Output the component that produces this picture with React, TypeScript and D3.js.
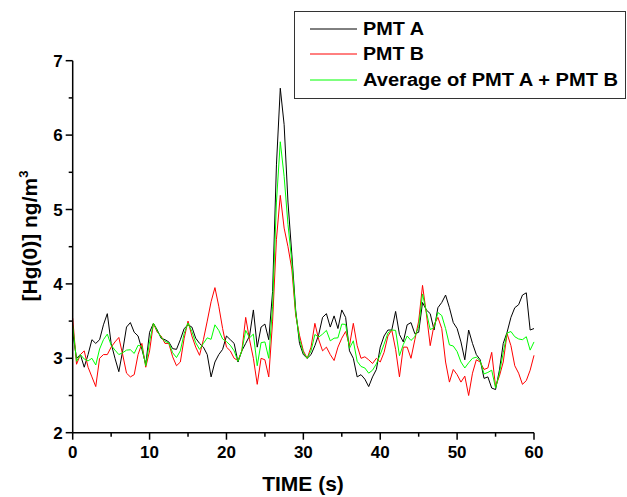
import React from "react";
import * as d3 from "d3";

const timeStep = 0.5;
const pmtA = [
  3.35, 3.0, 3.05, 2.88, 3.05, 3.25, 3.2, 3.25, 3.45, 3.6, 3.2, 3.0, 2.82, 3.1, 3.42, 3.48, 3.35, 3.3, 3.12, 2.92,
  3.35, 3.47, 3.38, 3.27, 3.25, 3.22, 3.13, 3.12, 3.25, 3.4, 3.45, 3.42, 3.27, 3.2, 3.15, 3.05, 2.75, 2.95, 3.05, 3.12,
  3.3, 3.25, 3.2, 2.95, 3.1, 3.2, 3.3, 3.65, 3.15, 3.42, 3.46, 3.25, 3.9, 5.6, 6.63, 6.14, 5.1, 4.4, 3.65, 3.2,
  3.05, 3.0, 3.05, 3.17, 3.32, 3.55, 3.6, 3.42, 3.57, 3.4, 3.65, 3.55, 3.1, 3.0, 2.75, 2.78, 2.72, 2.62, 2.75, 2.85,
  3.15, 3.3, 3.38, 3.38, 3.63, 3.32, 3.22, 3.45, 3.48, 3.33, 3.35, 3.75, 3.65, 3.6, 3.38, 3.68, 3.75, 3.85, 3.68, 3.48,
  3.4, 3.22, 2.98, 3.38, 3.2, 3.05, 2.98, 2.73, 2.75, 2.6, 2.58, 2.84, 3.2, 3.35, 3.55, 3.68, 3.72, 3.85, 3.88, 3.38,
  3.4,
];
const pmtB = [
  3.54, 2.92, 3.05, 3.1, 2.88, 2.75, 2.62, 3.0, 3.05, 3.05, 3.15, 3.22, 3.28, 3.05, 2.8, 2.75, 2.78, 3.05, 3.2, 2.88,
  3.1, 3.47, 3.35, 3.3, 3.2, 3.2, 3.02, 2.9, 2.95, 3.27, 3.5, 3.3, 3.15, 3.04, 3.25, 3.5, 3.76, 3.95, 3.7, 3.4,
  3.15, 3.1, 3.0, 2.97, 3.1, 3.55, 3.25, 3.0, 2.65, 3.0, 2.98, 2.75, 3.5, 4.6, 5.19, 4.75, 4.5, 4.2, 3.58, 3.31,
  3.1, 3.0, 3.15, 3.47, 3.25, 3.1, 3.15, 3.05, 2.97, 3.15, 3.27, 3.36, 3.17, 3.47, 3.17, 3.0, 3.02, 2.98, 2.93, 3.0,
  2.95, 3.08, 3.3, 3.38, 3.12, 2.75, 3.15, 3.15, 3.0, 3.25, 3.5, 3.98, 3.6, 3.17, 3.45, 3.55, 3.4, 2.95, 2.68, 2.85,
  2.78, 2.68, 2.76, 2.5, 2.8, 2.98, 2.95, 2.85, 2.87, 3.08, 2.62, 2.76, 2.95, 3.33, 3.17, 2.9, 2.8, 2.65, 2.7, 2.84,
  3.04,
];
const seriesNames = ["PMT A", "PMT B", "Average of PMT A + PMT B"];
const seriesColors = ["#000000", "#ff0000", "#00ff00"];
const xTicks = [0, 10, 20, 30, 40, 50, 60];
const yTicks = [2, 3, 4, 5, 6, 7];

export default function App() {
  const W = 627, H = 497;
  const x = d3.scaleLinear().domain([0, 60]).range([72.7, 534]);
  const y = d3.scaleLinear().domain([2, 7]).range([432.7, 60.7]);
  const avg = pmtA.map((a, i) => (a + pmtB[i]) / 2);
  const series = [pmtA, pmtB, avg];
  const line = d3
    .line<number>()
    .x((_, i) => x(i * timeStep))
    .y((d) => y(d));
  const xMinor = d3.range(5, 60, 10);
  const yMinor = d3.range(2.5, 7, 1);
  const font = "Arial, 'Liberation Sans', sans-serif";
  const legendWidths = [61, 61, 255];
  return (
    <svg width={W} height={H} style={{ position: "absolute", left: 0, top: 0 }} fontFamily={font}>
      <rect width={W} height={H} fill="#fff" />
      {series.map((s, k) => (
        <path key={k} d={line(s) || ""} fill="none" stroke={seriesColors[k]} strokeWidth={1} strokeLinejoin="round" />
      ))}
      <line x1={x(0)} x2={x(0)} y1={y(7)} y2={y(2)} stroke="#000" strokeWidth={1.5} />
      <line x1={x(0)} x2={x(60)} y1={y(2)} y2={y(2)} stroke="#000" strokeWidth={1.5} />
      {yTicks.map((t) => (
        <g key={"y" + t}>
          <line x1={x(0) - 7} x2={x(0)} y1={y(t)} y2={y(t)} stroke="#000" strokeWidth={1.5} />
          <text x={x(0) - 10} y={y(t)} dy="0.36em" textAnchor="end" fontSize={17} fontWeight="bold">
            {t}
          </text>
        </g>
      ))}
      {yMinor.map((t) => (
        <line key={"ym" + t} x1={x(0) - 4} x2={x(0)} y1={y(t)} y2={y(t)} stroke="#000" strokeWidth={1.5} />
      ))}
      {xTicks.map((t) => (
        <g key={"x" + t}>
          <line x1={x(t)} x2={x(t)} y1={y(2)} y2={y(2) + 7} stroke="#000" strokeWidth={1.5} />
          <text x={x(t)} y={458} textAnchor="middle" fontSize={17} fontWeight="bold">
            {t}
          </text>
        </g>
      ))}
      {xMinor.map((t) => (
        <line key={"xm" + t} x1={x(t)} x2={x(t)} y1={y(2)} y2={y(2) + 4} stroke="#000" strokeWidth={1.5} />
      ))}
      <text x={303} y={491} textAnchor="middle" fontSize={21} fontWeight="bold">
        TIME (s)
      </text>
      <text transform="translate(37,236) rotate(-90)" textAnchor="middle" fontSize={21} fontWeight="bold">
        [Hg(0)] ng/m<tspan dy={-9} fontSize={13}>3</tspan>
      </text>
      <rect x={294.5} y={11.5} width={331} height={87} fill="#fff" stroke="#333" strokeWidth={1} />
      {seriesNames.map((n, k) => {
        const ry = [29, 54, 80][k];
        return (
          <g key={n}>
            <line x1={310} x2={357} y1={ry} y2={ry} stroke={seriesColors[k]} strokeWidth={1} />
            <text
              x={363}
              y={ry}
              dy="0.36em"
              fontSize={18}
              fontWeight="bold"
              textLength={legendWidths[k]}
              lengthAdjust="spacingAndGlyphs"
            >
              {n}
            </text>
          </g>
        );
      })}
    </svg>
  );
}
